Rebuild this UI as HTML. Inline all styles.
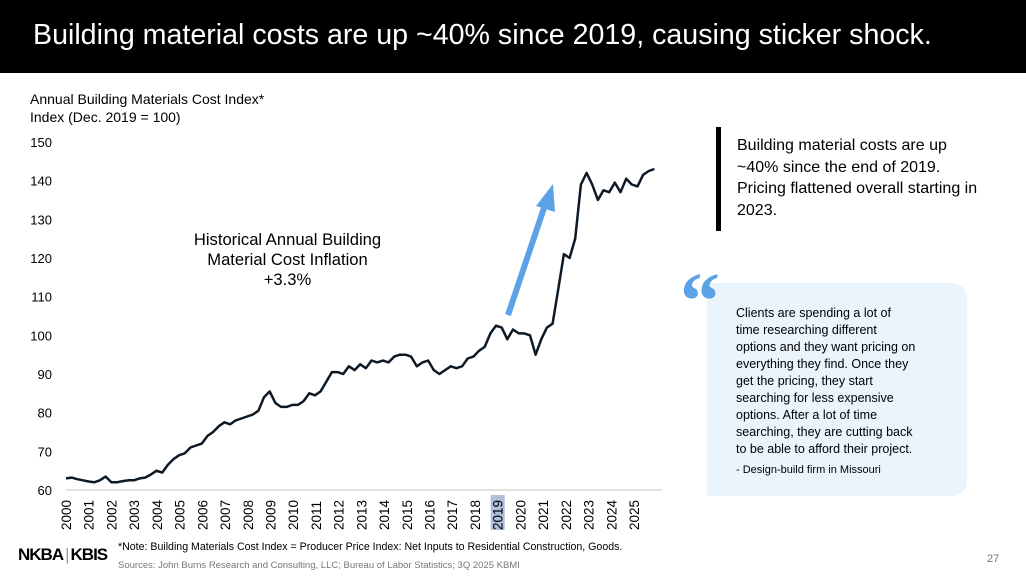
<!DOCTYPE html>
<html><head><meta charset="utf-8"><style>
body{margin:0;width:1026px;height:578px;overflow:hidden;background:#fff;font-family:"Liberation Sans",sans-serif;position:relative}
.a{position:absolute}
</style></head><body>
<div class="a" style="left:0;top:0;width:1026px;height:73px;background:#000"></div>
<div class="a" style="left:33px;top:19px;color:#fff;font-size:28.6px;white-space:nowrap">Building material costs are up ~40% since 2019, causing sticker shock.</div>
<div class="a" style="left:30px;top:90px;font-size:14px;line-height:18px;color:#000">Annual Building Materials Cost Index*<br>Index (Dec. 2019 = 100)</div>
<svg class="a" id="chart" style="left:0;top:0" width="680" height="545"></svg>
<div class="a" style="left:155px;top:230px;width:265px;text-align:center;font-size:16.6px;line-height:20px">Historical Annual Building<br>Material Cost Inflation<br>+3.3%</div>
<div class="a" style="left:716px;top:127px;width:5px;height:104px;background:#000"></div>
<div class="a" style="left:737px;top:135px;font-size:16px;line-height:21.5px;width:255px">Building material costs are up ~40% since the end of 2019. Pricing flattened overall starting in 2023.</div>
<div class="a" style="left:707px;top:283px;width:260px;height:213px;background:#eaf4fc;border-radius:0 14px 14px 0"></div>
<div class="a" style="left:680px;top:262px;font-size:80px;line-height:80px;color:#5ba3e6;font-family:'Liberation Serif',serif;font-weight:bold">&#8220;</div>
<div class="a" style="left:736px;top:305px;font-size:12.5px;line-height:17px;white-space:nowrap">Clients are spending a lot of<br>time researching different<br>options and they want pricing on<br>everything they find. Once they<br>get the pricing, they start<br>searching for less expensive<br>options. After a lot of time<br>searching, they are cutting back<br>to be able to afford their project.<div style="font-size:11px;margin-top:4px">- Design-build firm in Missouri</div></div>
<div class="a" style="left:18px;top:545px;font-size:17px;font-weight:bold;letter-spacing:-1px">NKBA<span style="font-weight:normal;color:#999;margin:0 2px">|</span>KBIS</div>
<div class="a" style="left:118px;top:541px;font-size:10.6px;color:#000">*Note: Building Materials Cost Index = Producer Price Index: Net Inputs to Residential Construction, Goods.</div>
<div class="a" style="left:118px;top:560px;font-size:9.5px;color:#777">Sources: John Burns Research and Consulting, LLC; Bureau of Labor Statistics; 3Q 2025 KBMI</div>
<div class="a" style="left:987px;top:553px;font-size:11px;color:#777">27</div>
<script>
const yTicks=[60,70,80,90,100,110,120,130,140,150];
const xLabels=[2000,2001,2002,2003,2004,2005,2006,2007,2008,2009,2010,2011,2012,2013,2014,2015,2016,2017,2018,2019,2020,2021,2022,2023,2024,2025];
const indexValues=[63,63.2,62.8,62.5,62.2,62,62.5,63.5,62,62,62.3,62.5,62.5,63,63.2,64,65,64.5,66.5,68,69,69.5,71,71.5,72,74,75,76.5,77.5,77,78,78.5,79,79.5,80.5,84,85.5,82.5,81.5,81.5,82,82,83,85,84.5,85.5,88,90.5,90.5,90,92,91,92.5,91.5,93.5,93,93.5,93,94.5,95,95,94.5,92,93,93.5,91,90,91,92,91.5,92,94,94.5,96,97,100.5,102.5,102,99,101.5,100.5,100.5,100,95,99,102,103,112,121,120,125,139,142,139,135,137.5,137,139.5,137,140.5,139,138.5,141.5,142.5,143];
const x=t=>66+(t-2000)*22.72;
const y=v=>490-(v-60)*3.867;
const svg=document.getElementById('chart');
const NS='http://www.w3.org/2000/svg';
function mk(tag,attrs){const e=document.createElementNS(NS,tag);for(const k in attrs)e.setAttribute(k,attrs[k]);svg.appendChild(e);return e;}
yTicks.forEach(v=>{const t=mk('text',{x:52,y:y(v)+5,'text-anchor':'end','font-size':13,'font-family':'Liberation Sans, sans-serif'});t.textContent=v;

});
const ax=mk('line',{x1:66,x2:662,y1:490,y2:490,stroke:'#d9d9d9','stroke-width':1.5});


xLabels.forEach(yr=>{const cx=x(yr);
if(yr===2019){const r=mk('rect',{x:cx-7,y:495,width:14,height:35,fill:'#aebfd9'});

}
const t=mk('text',{x:0,y:0,transform:`translate(${cx+5},530) rotate(-90)`,'font-size':13.5,'font-family':'Liberation Sans, sans-serif'});t.textContent=yr;

});
const pl=mk('polyline',{points:indexValues.map((v,i)=>x(2000+i*25.9/(indexValues.length-1)).toFixed(1)+','+y(v).toFixed(1)).join(' '),fill:'none',stroke:'#0d1a26','stroke-width':2.5,'stroke-linejoin':'round'});


const ar=mk('line',{x1:508,y1:315,x2:545,y2:205,stroke:'#5ba3e6','stroke-width':6});


const ah=mk('polygon',{points:'553,184 555,212 536,206',fill:'#5ba3e6'});


</script>
</body></html>
